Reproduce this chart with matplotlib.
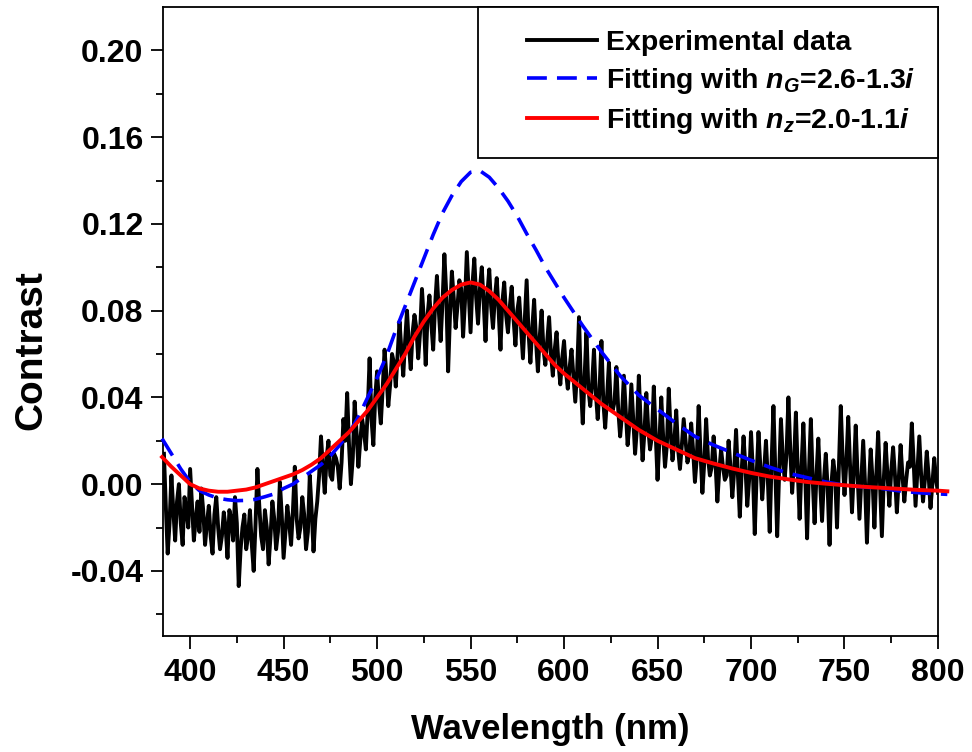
import numpy as np
import matplotlib
matplotlib.use("Agg")
import matplotlib.pyplot as plt
from matplotlib.legend_handler import HandlerLine2D

plt.rcParams['font.family'] = ['Liberation Sans', 'DejaVu Sans']
plt.rcParams['font.weight'] = 'bold'
plt.rcParams['mathtext.fontset'] = 'custom'
plt.rcParams['mathtext.rm'] = 'Liberation Sans:bold'
plt.rcParams['mathtext.it'] = 'Liberation Sans:italic:bold'
plt.rcParams['mathtext.bf'] = 'Liberation Sans:bold'

# Experimental data, 1 nm sampling from 386 to 800 nm
exp_wl = np.arange(386, 801, 1)
# readings at even wavelengths (386, 388, ..., 800)
exp_even = [
    0.014, -0.032, 0.004, -0.026, 0.000, -0.028, -0.012, 0.007, -0.026, -0.008,
    -0.002, -0.028, -0.010, -0.032, -0.006, -0.030, -0.013, -0.034, -0.016, -0.006,
    -0.047, -0.020, -0.030, -0.012, -0.040, 0.007, -0.024, -0.012, -0.037, -0.008,
    -0.030, 0.001, -0.034, -0.010, -0.028, 0.008, -0.025, -0.006, -0.030, 0.004,
    -0.031, -0.008, 0.022, -0.004, 0.020, 0.002, 0.012, -0.002, 0.030, 0.042,
    0.000, 0.038, 0.008, 0.030, 0.016, 0.058, 0.018, 0.052, 0.028, 0.062,
    0.036, 0.060, 0.045, 0.075, 0.050, 0.080, 0.053, 0.078, 0.058, 0.090,
    0.055, 0.087, 0.062, 0.096, 0.066, 0.106, 0.052, 0.098, 0.072, 0.094,
    0.068, 0.107, 0.070, 0.104, 0.074, 0.100, 0.066, 0.099, 0.072, 0.095,
    0.062, 0.093, 0.070, 0.091, 0.064, 0.086, 0.058, 0.094, 0.056, 0.085,
    0.052, 0.080, 0.055, 0.077, 0.050, 0.070, 0.046, 0.066, 0.044, 0.062,
    0.038, 0.077, 0.028, 0.070, 0.036, 0.062, 0.030, 0.066, 0.026, 0.056,
    0.034, 0.054, 0.022, 0.050, 0.018, 0.046, 0.014, 0.050, 0.011, 0.042,
    0.016, 0.045, 0.002, 0.040, 0.008, 0.044, 0.011, 0.034, 0.007, 0.030,
    0.010, 0.028, 0.001, 0.036, -0.004, 0.030, 0.004, 0.022, -0.008, 0.016,
    0.002, 0.020, -0.006, 0.025, -0.015, 0.022, -0.010, 0.024, -0.023, 0.024,
    -0.007, 0.020, -0.022, 0.036, -0.024, 0.030, 0.002, 0.040, -0.004, 0.033,
    -0.016, 0.028, -0.025, 0.030, -0.018, 0.021, -0.017, 0.014, -0.028, 0.011,
    -0.020, 0.036, -0.005, 0.031, -0.013, 0.027, -0.016, 0.020, -0.027, 0.016,
    -0.020, 0.024, -0.024, 0.019, -0.010, 0.017, -0.013, 0.018, -0.008, 0.010,
    0.028, -0.010, 0.022, -0.008, 0.015, -0.011, 0.012, -0.004,
]
# readings at odd wavelengths (387, 389, ..., 799)
exp_odd = [
    -0.010, -0.018, -0.012, -0.008, -0.018, -0.006, -0.020,
    -0.010, -0.016, -0.022, -0.012, -0.018, -0.024, -0.014, -0.020, -0.024, -0.020,
    -0.012, -0.026, -0.018, -0.030, -0.014, -0.024, -0.028, -0.018, -0.010, -0.030,
    -0.020, -0.024, -0.016, -0.022, -0.014, -0.022, -0.018, -0.012, -0.016, -0.020,
    -0.014, -0.022, -0.012, -0.016, 0.004, 0.008, 0.012, 0.004, 0.014, 0.008,
    0.010, 0.020, 0.018, 0.012, 0.024, 0.020, 0.024, 0.034, 0.030, 0.040,
    0.038, 0.044, 0.050, 0.046, 0.056, 0.060, 0.062, 0.066, 0.064, 0.070,
    0.072, 0.070, 0.076, 0.078, 0.074, 0.082, 0.080, 0.084, 0.088, 0.078,
    0.086, 0.082, 0.090, 0.084, 0.088, 0.092, 0.086, 0.090, 0.084, 0.088,
    0.082, 0.086, 0.080, 0.084, 0.078, 0.082, 0.076, 0.080, 0.072, 0.076,
    0.070, 0.072, 0.066, 0.068, 0.062, 0.066, 0.060, 0.062, 0.056, 0.058,
    0.052, 0.054, 0.050, 0.052, 0.046, 0.050, 0.044, 0.046, 0.042, 0.044,
    0.038, 0.040, 0.036, 0.038, 0.034, 0.032, 0.034, 0.028, 0.030, 0.026,
    0.028, 0.024, 0.026, 0.022, 0.024, 0.020, 0.022, 0.018, 0.024, 0.020,
    0.016, 0.018, 0.020, 0.014, 0.016, 0.012, 0.014, 0.010, 0.012, 0.008,
    0.010, 0.006, 0.008, 0.004, 0.008, 0.006, 0.004, 0.006, 0.008, 0.002,
    0.006, 0.004, 0.008, 0.006, 0.002, 0.010, 0.006, 0.004, 0.012, 0.014,
    0.016, 0.010, 0.006, 0.008, 0.004, 0.006, 0.002, 0.004, 0.000, 0.002,
    -0.002, 0.000, 0.004, 0.008, 0.012, 0.010, 0.008, 0.006, 0.004, 0.002,
    0.000, -0.002, 0.002, 0.004, 0.000, 0.002, 0.004, 0.006, 0.004, 0.002,
    0.004, 0.002, 0.008, 0.010, 0.006, 0.004, 0.002, 0.004, 0.000, 0.002,
]
assert len(exp_even) == 208 and len(exp_odd) == 207
exp_val = np.empty(len(exp_wl))
exp_val[0::2] = exp_even
exp_val[1::2] = exp_odd

# Fitted curves
fit_wl = [385, 390, 395, 400, 405, 410, 415, 420, 425, 430, 435, 440, 445, 450,
          455, 460, 465, 470, 475, 480, 485, 490, 495, 500, 505, 510, 515, 520,
          525, 530, 535, 540, 545, 550, 555, 560, 565, 570, 575, 580, 585, 590,
          595, 600, 610, 620, 630, 640, 650, 660, 670, 680, 690, 700, 710, 720,
          730, 740, 750, 760, 770, 780, 790, 800, 805]
# n_G = 2.6-1.3i (blue dashed)
fit_G = [0.021, 0.014, 0.007, 0.001, -0.003, -0.005, -0.0065, -0.0072, -0.0076,
         -0.0075, -0.007, -0.0058, -0.0045, -0.002, 0.000, 0.003, 0.006, 0.009,
         0.013, 0.018, 0.0235, 0.031, 0.040, 0.049, 0.059, 0.071, 0.082, 0.093,
         0.104, 0.115, 0.125, 0.133, 0.1395, 0.1438, 0.1445, 0.1415, 0.1365, 0.1305,
         0.1235, 0.1155, 0.108, 0.100, 0.093, 0.086, 0.073, 0.061, 0.050, 0.041,
         0.0345, 0.028, 0.022, 0.018, 0.0145, 0.011, 0.0078, 0.005, 0.003, 0.001,
         -0.0005, -0.0013, -0.002, -0.0032, -0.004, -0.0045, -0.0047]
# n_z = 2.0-1.1i (red solid)
fit_z = [0.0125, 0.008, 0.004, 0.000, -0.002, -0.003, -0.0035, -0.0035, -0.003,
         -0.0025, -0.0015, 0.000, 0.0015, 0.003, 0.0045, 0.0065, 0.009, 0.012,
         0.016, 0.020, 0.024, 0.029, 0.034, 0.040, 0.046, 0.053, 0.060, 0.068,
         0.075, 0.081, 0.086, 0.0895, 0.092, 0.093, 0.092, 0.089, 0.085, 0.080,
         0.075, 0.070, 0.065, 0.060, 0.055, 0.051, 0.044, 0.037, 0.031, 0.025,
         0.020, 0.016, 0.012, 0.0095, 0.0072, 0.0052, 0.0035, 0.0022, 0.001,
         0.0002, -0.0005, -0.0012, -0.0017, -0.0022, -0.0027, -0.003, -0.0033]

labels = ['Experimental data',
          r'Fitting with $n_G$=2.6-1.3$i$',
          r'Fitting with $n_z$=2.0-1.1$i$']


class ShiftedLine(HandlerLine2D):
    """Legend line drawn in the right part of the handle box."""
    def create_artists(self, legend, orig_handle, xdescent, ydescent, width,
                       height, fontsize, trans):
        arts = super().create_artists(legend, orig_handle, xdescent, ydescent,
                                      width, height, fontsize, trans)
        for a in arts:
            xd = np.asarray(a.get_xdata(), dtype=float)
            if len(xd) >= 2:
                x0, x1 = xd[0], xd[-1]
                a.set_xdata(np.linspace(x0 + (x1 - x0) * 0.27, x1, len(xd)))
        return arts


fig = plt.figure(figsize=(9.72, 7.52), dpi=100)
ax = fig.add_axes([0.1677, 0.1543, 0.7973, 0.8364])

l1, = ax.plot(exp_wl, exp_val, color='black', lw=2.8, label=labels[0], zorder=2)
l2, = ax.plot(fit_wl, fit_G, color='#0000ff', lw=2.6, dashes=(5.5, 2.8),
              label=labels[1], zorder=3, clip_on=False)
l3, = ax.plot(fit_wl, fit_z, color='#ff0000', lw=2.8, label=labels[2], zorder=4,
              clip_on=False)

ax.set_xlim(385.5, 800)
ax.set_ylim(-0.07, 0.22)
ax.set_xticks([400, 450, 500, 550, 600, 650, 700, 750, 800])
ax.set_xticks(np.arange(425, 800, 50), minor=True)
ax.set_yticks([-0.04, 0.00, 0.04, 0.08, 0.12, 0.16, 0.20])
ax.set_yticks([-0.06, -0.02, 0.02, 0.06, 0.10, 0.14, 0.18], minor=True)
ax.set_yticklabels(['-0.04', '0.00', '0.04', '0.08', '0.12', '0.16', '0.20'])

ax.tick_params(axis='both', which='major', direction='out', length=9, width=1.3,
               labelsize=23, top=False, right=False)
ax.tick_params(axis='both', which='minor', direction='out', length=5, width=1.3,
               top=False, right=False)
ax.tick_params(axis='x', which='major', pad=7)
ax.tick_params(axis='y', which='major', pad=5)
for lab in ax.get_xticklabels() + ax.get_yticklabels():
    lab.set_fontweight('bold')
for sp in ax.spines.values():
    sp.set_linewidth(1.3)

ax.set_xlabel('Wavelength (nm)', fontsize=25, fontweight='bold', labelpad=18)
ax.set_ylabel('Contrast', fontsize=28, fontweight='bold')
ax.yaxis.set_label_coords(-0.146, 0.455)

leg = ax.legend(handles=[l1, l2, l3], loc='upper right',
                bbox_to_anchor=(1.0, 1.0), borderaxespad=0,
                fancybox=False, edgecolor='black', framealpha=1,
                prop={'size': 20.5, 'weight': 'bold'}, handlelength=3.4,
                handletextpad=0.3, labelspacing=0.35, borderpad=0.8,
                handler_map={l1: ShiftedLine(), l2: ShiftedLine(),
                             l3: ShiftedLine()})
leg.get_frame().set_linewidth(1.3)

fig.savefig('out.png', dpi=100)
